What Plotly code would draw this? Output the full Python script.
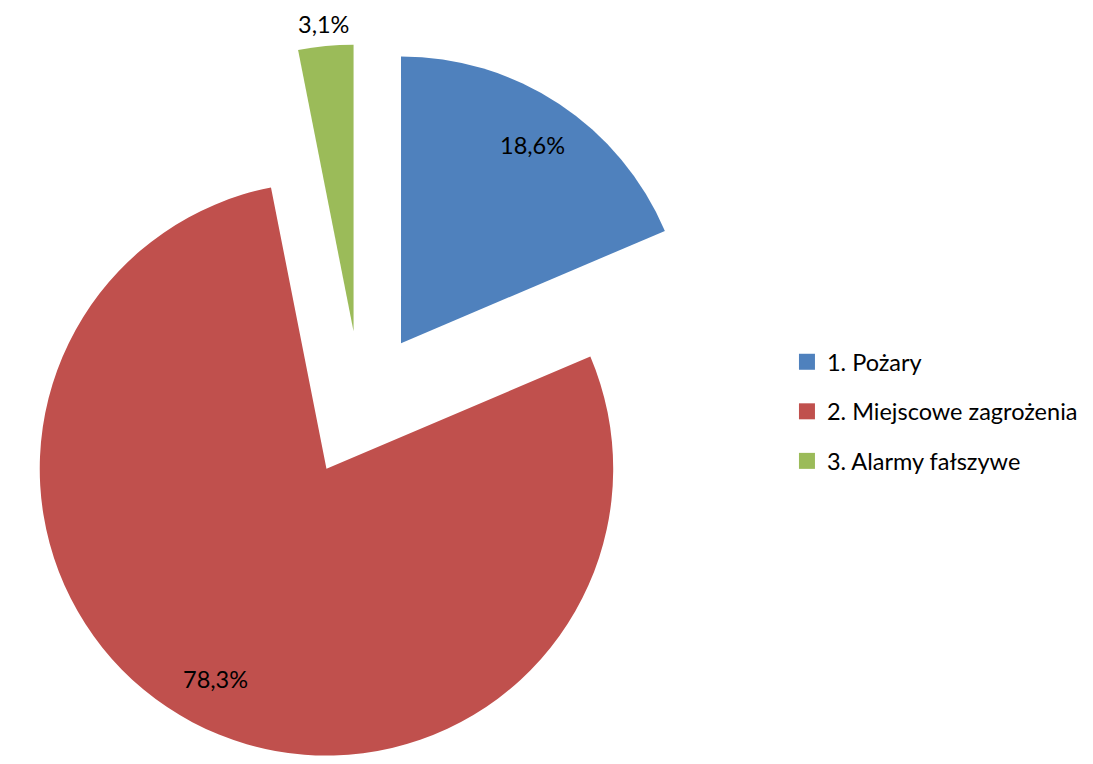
import math
import plotly.graph_objects as go

categories = ["1. Pożary", "2. Miejscowe zagrożenia", "3. Alarmy fałszywe"]
values = [18.6, 78.3, 3.1]
colors = ["#4F81BD", "#C0504D", "#9BBB59"]
text_positions = ["inside", "inside", "outside"]

FONT = "Lato"
FONT_SIZE = 23.5
W, H = 1093, 764
PULL = 0.255
DOM_X = [0, 0.66]
DOM_Y = [0, 0.942]

fig = go.Figure()
fig.add_trace(go.Pie(
    labels=categories,
    values=values,
    sort=False,
    direction="clockwise",
    rotation=0,
    pull=[PULL] * len(values),
    marker=dict(colors=colors, line=dict(width=0)),
    textinfo="none",
    showlegend=False,
    hoverinfo="label+percent",
    domain=dict(x=DOM_X, y=DOM_Y),
))

# legend entries (square swatches)
for i, (cat, col) in enumerate(zip(categories, colors)):
    fig.add_trace(go.Scatter(
        x=[None], y=[None], mode="markers", name=cat,
        marker=dict(symbol="square", size=16, color=col),
        legendgroup=f"g{i}", showlegend=True, hoverinfo="skip",
    ))

# percentage labels, placed along each slice's mid-angle (same geometry plotly uses)
box_w = W * (DOM_X[1] - DOM_X[0])
box_h = H * (DOM_Y[1] - DOM_Y[0])
r = min(box_w, box_h) / 2 / (1 + PULL)
cx = W * (DOM_X[0] + DOM_X[1]) / 2
cy = H * (1 - DOM_Y[0]) - box_h / 2
d = PULL * r
total = sum(values)
annotations = []
cum = 0.0
for v, pos in zip(values, text_positions):
    theta = 2 * math.pi * (cum + v / 2) / total
    cum += v
    k = 0.83 if pos == "inside" else 1.077
    px = cx + (d + k * r) * math.sin(theta)
    py = cy - (d + k * r) * math.cos(theta)
    label = f"{v / total * 100:.1f}".replace(".", ",") + "%"
    annotations.append(dict(
        x=px / W, y=1 - py / H, xref="paper", yref="paper",
        text=label, showarrow=False, xanchor="center", yanchor="middle",
        font=dict(family=FONT, size=FONT_SIZE, color="#000000"),
    ))

fig.update_layout(
    width=W, height=H,
    margin=dict(l=0, r=0, t=0, b=0, autoexpand=False),
    paper_bgcolor="white", plot_bgcolor="white",
    xaxis=dict(visible=False), yaxis=dict(visible=False),
    annotations=annotations,
    legend=dict(
        x=0.72, y=0.4614, xanchor="left", yanchor="middle",
        font=dict(family=FONT, size=FONT_SIZE, color="#000000"),
        tracegroupgap=16, traceorder="grouped",
        itemclick=False, itemdoubleclick=False,
    ),
    font=dict(family=FONT),
)

fig.write_html("out.html")
